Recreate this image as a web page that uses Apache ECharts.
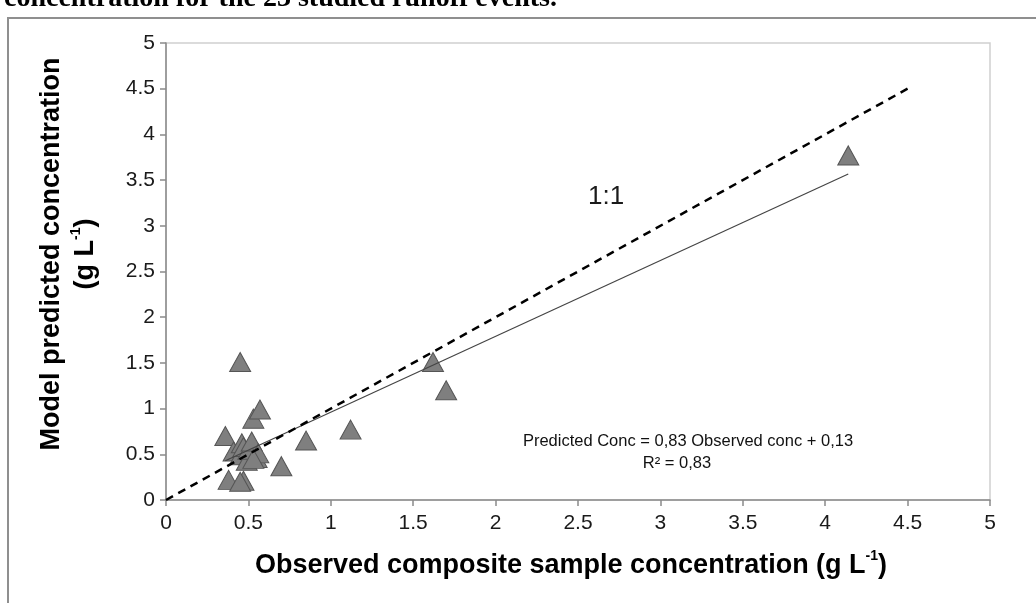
<!DOCTYPE html>
<html><head><meta charset="utf-8">
<script src="https://cdn.jsdelivr.net/npm/echarts@6/dist/echarts.min.js"></script>
<style>html,body{margin:0;padding:0;background:#fff}#c{width:1036px;height:603px}</style>
</head><body><div id="c"></div>
<script>
// Observed composite sample concentration (g/L) and model predicted concentration (g/L)
const observed  = [0.36, 0.38, 0.41, 0.45, 0.45, 0.46, 0.47, 0.47, 0.49, 0.50, 0.52, 0.53, 0.55, 0.56, 0.57, 0.53, 0.70, 0.85, 1.12, 1.62, 1.70, 4.14, 0.45];
const predicted = [0.70, 0.22, 0.53, 1.51, 0.49, 0.62, 0.21, 0.58, 0.43, 0.55, 0.64, 0.89, 0.46, 0.51, 0.99, 0.45, 0.37, 0.65, 0.77, 1.51, 1.20, 3.77, 0.20];
const axisTicks = [0, 0.5, 1, 1.5, 2, 2.5, 3, 3.5, 4, 4.5, 5];
const trendSlope = 0.83;
const trendIntercept = 0.13;
const oneToOneX = [0, 4.5];
const equationLine1 = 'Predicted Conc = 0,83 Observed conc + 0,13';
const equationLine2 = 'R\u00b2 = 0,83';

const points = observed.map((x, i) => [x, predicted[i]]);
const xMin = Math.min(...observed), xMax = Math.max(...observed);
const trend = [[xMin, trendSlope * xMin + trendIntercept], [xMax, trendSlope * xMax + trendIntercept]];
const oneToOne = oneToOneX.map(v => [v, v]);

const FONT = '"Liberation Sans", Arial, sans-serif';
const axisCommon = {
  type: 'value', min: axisTicks[0], max: axisTicks[axisTicks.length - 1], interval: axisTicks[1] - axisTicks[0],
  axisLine: { show: true, lineStyle: { color: '#8a8a8a', width: 1.5 } },
  axisTick: { show: true, inside: false, length: 6, lineStyle: { color: '#8a8a8a', width: 1.5 } },
  splitLine: { show: false },
  axisLabel: { fontFamily: FONT, fontSize: 21, color: '#1a1a1a' }
};
const titleRich = {
  b: { fontFamily: FONT, fontSize: 27, fontWeight: 'bold', color: '#0a0a0a', lineHeight: 34 },
  s: { fontFamily: FONT, fontSize: 14, fontWeight: 'bold', color: '#0a0a0a', verticalAlign: 'top', lineHeight: 34, padding: [0, 0, 14, 0] }
};

const chart = echarts.init(document.getElementById('c'), null, { renderer: 'canvas' });
chart.setOption({
  animation: false,
  backgroundColor: '#fff',
  grid: { left: 166, right: 46, top: 43, bottom: 103, show: true, borderColor: '#cfcfcf', borderWidth: 1.5, backgroundColor: 'transparent' },
  xAxis: Object.assign({}, axisCommon, { axisLabel: Object.assign({}, axisCommon.axisLabel, { margin: 13 }) }),
  yAxis: Object.assign({}, axisCommon, { axisLabel: Object.assign({}, axisCommon.axisLabel, { margin: 11 }) }),
  graphic: [
    { type: 'rect', shape: { x: 8, y: 18, width: 1200, height: 800 }, style: { fill: 'none', stroke: '#8f8f8f', lineWidth: 2 }, silent: true },
    { type: 'text', x: 4, y: 13, style: { text: 'concentration for the 23 studied runoff events.', font: 'bold 28px "Liberation Serif", "Times New Roman", serif', fill: '#000', verticalAlign: 'bottom', align: 'left' } },
    { type: 'text', x: 571, y: 566, style: { text: '{b|Observed composite sample concentration (g L}{s|-1}{b|)}', rich: titleRich, align: 'center', verticalAlign: 'middle' } },
    { type: 'text', x: 69, y: 254, rotation: Math.PI / 2, style: { text: '{b|Model predicted concentration}\n{b|(g L}{s|-1}{b|)}', rich: titleRich, align: 'center', verticalAlign: 'middle' } },
    { type: 'text', x: 588, y: 197, style: { text: '1:1', font: '26px ' + FONT, fill: '#1a1a1a', verticalAlign: 'middle', align: 'left' } },
    { type: 'text', x: 688, y: 441, style: { text: equationLine1, font: '16.5px ' + FONT, fill: '#111', align: 'center', verticalAlign: 'middle' } },
    { type: 'text', x: 677, y: 463, style: { text: equationLine2, font: '16.5px ' + FONT, fill: '#111', align: 'center', verticalAlign: 'middle' } }
  ],
  series: [
    { type: 'scatter', data: points, symbol: 'triangle', symbolSize: [21, 19], z: 2,
      itemStyle: { color: '#7f7f7f', borderColor: '#555', borderWidth: 1, opacity: 1 } },
    { type: 'line', data: trend, showSymbol: false, symbol: 'none', z: 3,
      lineStyle: { color: '#444', width: 1.2 } },
    { type: 'line', data: oneToOne, showSymbol: false, symbol: 'none', z: 4,
      lineStyle: { color: '#000', width: 2.5, type: [8, 6] } }
  ]
});
</script>
</body></html>
